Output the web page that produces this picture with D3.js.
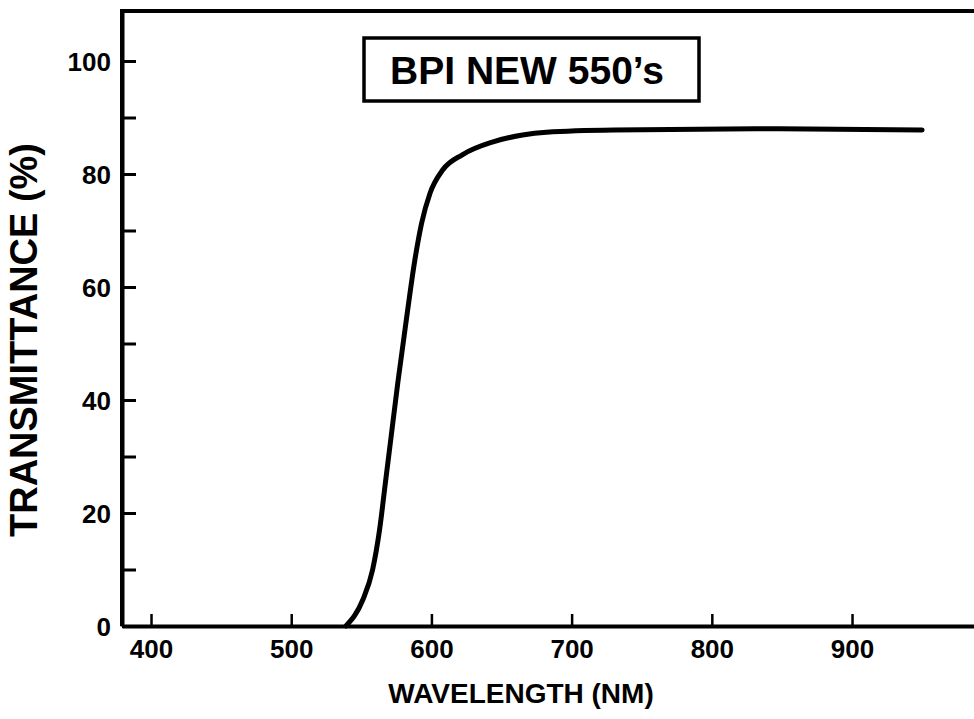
<!DOCTYPE html>
<html>
<head>
<meta charset="utf-8">
<script src="https://cdn.jsdelivr.net/npm/d3@7"></script>
<style>
  html, body { margin: 0; padding: 0; background: #fff; }
  svg { display: block; }
  text { font-family: "Liberation Sans", Arial, Helvetica, sans-serif; font-weight: bold; fill: #000; }
</style>
</head>
<body>
<svg id="chart" width="974" height="719"></svg>
<script>
// ---- data ----
const wavelengths   = [539, 551, 558, 563, 567, 571, 576, 582, 588, 593, 599, 608, 622, 644, 665, 682, 730, 848, 950];
const transmittance = [0, 4.6, 9.9, 17, 25, 33, 43, 54, 64.5, 71.3, 76.6, 80.7, 83.4, 85.7, 86.9, 87.4, 87.8, 88, 87.8];
const xTickValues = [400, 500, 600, 700, 800, 900];
const yMajorTicks = [0, 20, 40, 60, 80, 100];
const yMinorTicks = [10, 30, 50, 70, 90];
const legendLabel = "BPI NEW 550\u2019s";
const xTitle = "WAVELENGTH (NM)";
const yTitle = "TRANSMITTANCE (%)";

const svg = d3.select("#chart");
const pLeft = 122, pRight = 974, pTop = 11, pBottom = 626;

const x = d3.scaleLinear().domain([379.3, 987]).range([pLeft, pRight]);
const y = d3.scaleLinear().domain([0, 108.85]).range([pBottom, pTop]);

// x axis (ticks pointing inward / upward)
const gx = svg.append("g").attr("transform", `translate(0,${pBottom})`)
  .call(d3.axisBottom(x).tickValues(xTickValues).tickSize(-12).tickSizeOuter(0).tickPadding(0).tickFormat(d3.format("d")));
gx.select(".domain").attr("stroke", "#000").attr("stroke-width", 4);
gx.selectAll(".tick line").attr("stroke", "#000").attr("stroke-width", 2.5);
gx.selectAll(".tick text").attr("font-size", 26).attr("y", 32).attr("dy", 0)
  .attr("font-family", "Liberation Sans, Arial, sans-serif").attr("font-weight", "bold").attr("fill", "#000");

// y axis major
const gy = svg.append("g").attr("transform", `translate(${pLeft},0)`)
  .call(d3.axisLeft(y).tickValues(yMajorTicks).tickSize(-14).tickSizeOuter(0).tickPadding(0).tickFormat(d3.format("d")));
gy.select(".domain").attr("stroke", "#000").attr("stroke-width", 4);
gy.selectAll(".tick line").attr("stroke", "#000").attr("stroke-width", 3);
gy.selectAll(".tick text").attr("font-size", 26).attr("x", -11).attr("dy", "0.36em")
  .attr("font-family", "Liberation Sans, Arial, sans-serif").attr("font-weight", "bold").attr("fill", "#000");

// y axis minor
const gym = svg.append("g").attr("transform", `translate(${pLeft},0)`)
  .call(d3.axisLeft(y).tickValues(yMinorTicks).tickSize(-14).tickSizeOuter(0).tickFormat(""));
gym.select(".domain").remove();
gym.selectAll(".tick line").attr("stroke", "#000").attr("stroke-width", 3);

// top frame line
svg.append("line")
  .attr("x1", pLeft - 2).attr("x2", pRight).attr("y1", pTop).attr("y2", pTop)
  .attr("stroke", "#000").attr("stroke-width", 4);
// left line extends to top
svg.append("line")
  .attr("x1", pLeft).attr("x2", pLeft).attr("y1", pTop - 2).attr("y2", pBottom)
  .attr("stroke", "#000").attr("stroke-width", 4);

// curve
const pts = wavelengths.map((w, i) => [w, transmittance[i]]);
const line = d3.line().x(d => x(d[0])).y(d => y(d[1])).curve(d3.curveMonotoneX);
svg.append("path").datum(pts)
  .attr("d", line)
  .attr("fill", "none").attr("stroke", "#000").attr("stroke-width", 5)
  .attr("stroke-linecap", "round").attr("stroke-linejoin", "round");

// legend box
svg.append("rect")
  .attr("x", 364).attr("y", 38).attr("width", 335).attr("height", 63)
  .attr("fill", "none").attr("stroke", "#000").attr("stroke-width", 3.5);
svg.append("text")
  .attr("x", 527).attr("y", 84).attr("text-anchor", "middle")
  .attr("font-size", 39)
  .text(legendLabel);

// axis titles
svg.append("text")
  .attr("x", 521).attr("y", 703).attr("text-anchor", "middle")
  .attr("font-size", 28)
  .text(xTitle);
svg.append("text")
  .attr("transform", "translate(37,340) rotate(-90)")
  .attr("text-anchor", "middle")
  .attr("font-size", 38)
  .text(yTitle);
</script>
</body>
</html>
